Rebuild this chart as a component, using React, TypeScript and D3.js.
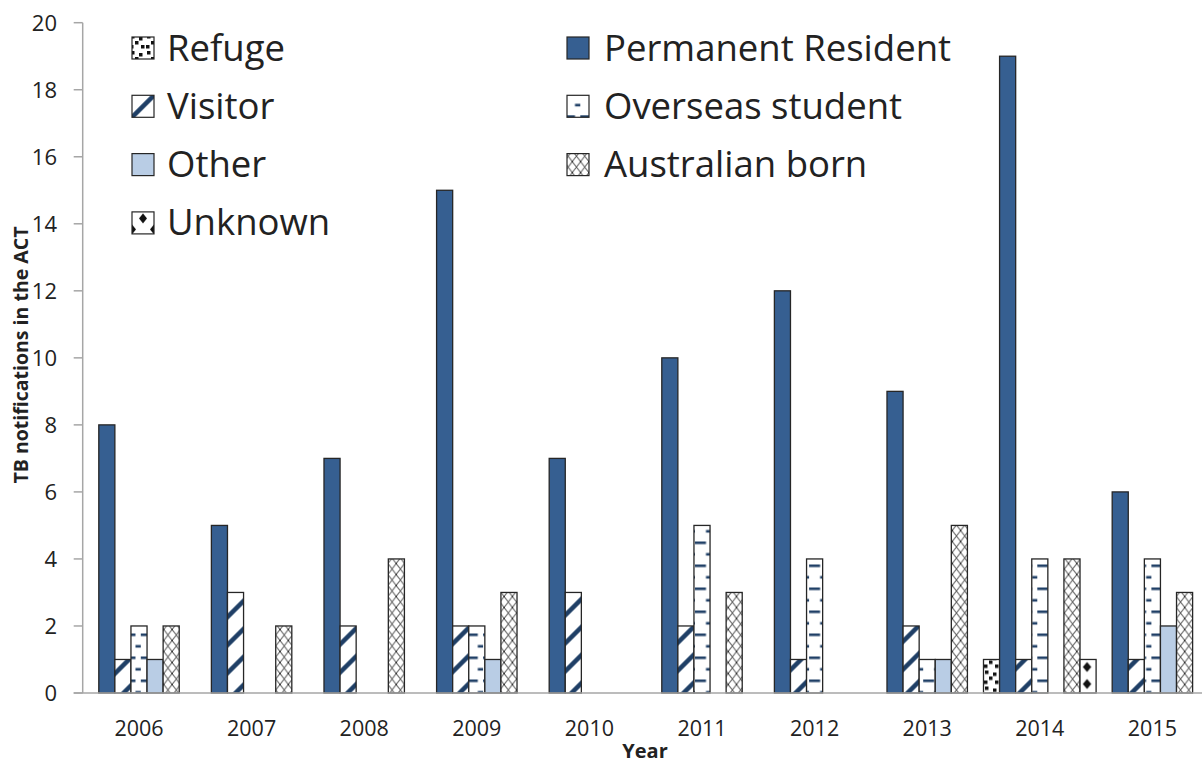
import React from "react";
import * as d3 from "d3";

const years = ["2006", "2007", "2008", "2009", "2010", "2011", "2012", "2013", "2014", "2015"];
const seriesNames = ["Refuge", "Permanent Resident", "Visitor", "Overseas student", "Other", "Australian born", "Unknown"];
const refuge = [0, 0, 0, 0, 0, 0, 0, 0, 1, 0];
const permanentResident = [8, 5, 7, 15, 7, 10, 12, 9, 19, 6];
const visitor = [1, 3, 2, 2, 3, 2, 1, 2, 1, 1];
const overseasStudent = [2, 0, 0, 2, 0, 5, 4, 1, 4, 4];
const other = [1, 0, 0, 1, 0, 0, 0, 1, 0, 2];
const australianBorn = [2, 2, 4, 3, 0, 3, 0, 5, 4, 3];
const unknown = [0, 0, 0, 0, 0, 0, 0, 0, 1, 0];
const yTicks = [0, 2, 4, 6, 8, 10, 12, 14, 16, 18, 20];

const seriesValues = [refuge, permanentResident, visitor, overseasStudent, other, australianBorn, unknown];

const W = 1202, H = 765;
const X0 = 82.7, STEP = 112.6;
const FONT = "'Open Sans', Lato, sans-serif";
const NAVY = "#1f3f66";
const PR_FILL = "#365f91";
const OTHER_FILL = "#b9cde5";
const EDGE = "#262626";
const AXIS = "#a6a6a6";

function Patterns({ prefix, ox, oy, dox = 0, doy = 0, legend = false }: { prefix: string; ox: number; oy: number; dox?: number; doy?: number; legend?: boolean }) {
  return (
    <>
      <pattern id={`${prefix}-refuge`} patternUnits="userSpaceOnUse" x={ox} y={oy} width={16} height={16}>
        <rect width={16} height={16} fill="#fff" />
        <rect x={2} y={1} width={3.5} height={3.5} fill="#111" />
        <rect x={10} y={3} width={3.5} height={3.5} fill="#111" />
        <rect x={6} y={7} width={3.5} height={3.5} fill="#111" />
        <rect x={1} y={11} width={3.5} height={3.5} fill="#111" />
        <rect x={12} y={11} width={3.5} height={3.5} fill="#111" />
      </pattern>
      <pattern id={`${prefix}-visitor`} patternUnits="userSpaceOnUse" x={ox} y={oy} width={28} height={28}>
        <rect width={28} height={28} fill="#fff" />
        <path d="M-7,7 L7,-7 M0,28 L28,0 M21,35 L35,21" stroke={NAVY} strokeWidth={4.5} />
      </pattern>
      <pattern id={`${prefix}-overseas`} patternUnits="userSpaceOnUse" x={ox} y={oy} width={16.3} height={23}>
        <rect width={16.3} height={23} fill="#fff" />
        <rect x={0} y={0} width={11} height={2.6} fill={NAVY} />
        <rect x={11} y={11.5} width={5.3} height={2.6} fill={NAVY} />
      </pattern>
      <pattern id={`${prefix}-aus`} patternUnits="userSpaceOnUse" x={ox} y={oy} width={8.3} height={11}>
        <rect width={8.3} height={11} fill="#fff" />
        <path d="M0,0 L8.3,11 M8.3,0 L0,11" stroke="#111" strokeWidth={0.9} />
      </pattern>
      {legend ? (
        <pattern id={`${prefix}-unknown`} patternUnits="userSpaceOnUse" x={ox + dox} y={oy + doy} width={22} height={22}>
          <rect width={22} height={22} fill="#fff" />
          <path d="M11,1.5 L15,6.5 L11,11.5 L7,6.5 Z M0,12.5 L4,17.5 L0,22.5 L-4,17.5 Z M22,12.5 L26,17.5 L22,22.5 L18,17.5 Z" fill="#111" />
        </pattern>
      ) : (
        <pattern id={`${prefix}-unknown`} patternUnits="userSpaceOnUse" x={ox + dox} y={oy + doy} width={16.1} height={17}>
          <rect width={16.1} height={17} fill="#fff" />
          <path d="M8.05,3.5 L12.3,8.5 L8.05,13.5 L3.8,8.5 Z" fill="#111" />
        </pattern>
      )}
    </>
  );
}

const fillFor = (prefix: string) => [
  `url(#${prefix}-refuge)`,
  PR_FILL,
  `url(#${prefix}-visitor)`,
  `url(#${prefix}-overseas)`,
  OTHER_FILL,
  `url(#${prefix}-aus)`,
  `url(#${prefix}-unknown)`,
];

export default function App() {
  const x = d3.scaleBand<string>().domain(years).range([X0, X0 + STEP * years.length]).padding(0);
  const xs = d3.scaleBand<string>().domain(seriesNames).range([0, x.bandwidth()]).padding(0);
  const y = d3.scaleLinear().domain([0, 20]).range([693, 22.7]);

  const barFills = fillFor("g");
  const bars: JSX.Element[] = [];
  seriesNames.forEach((s, si) => {
    seriesValues[si].forEach((v, i) => {
      if (v <= 0) return;
      const bx = (x(years[i]) as number) + (xs(s) as number);
      bars.push(
        <rect key={`${s}-${i}`} x={bx} y={y(v)} width={xs.bandwidth()} height={y(0) - y(v)}
          fill={barFills[si]} stroke={EDGE} strokeWidth={1.3} />
      );
    });
  });

  const legendRowY = (r: number) => 48 + 58.3 * r;
  const legendItems = seriesNames.map((s, si) => {
    const col = si % 2;
    const row = Math.floor(si / 2);
    const ix = col === 0 ? 132 : 567;
    const tx = col === 0 ? 167 : 604;
    const cy = legendRowY(row);
    return { s, si, ix, tx, cy };
  });

  return (
    <svg width={W} height={H} style={{ position: "absolute", left: 0, top: 0, background: "#fff" }}
      fontFamily={FONT}>
      <defs>
        <Patterns prefix="g" ox={695} oy={541.5} dox={1079 - 695} doy={658.5 - 541.5} />
        {legendItems.map((it) => (
          <Patterns key={it.s} prefix={`l${it.si}`} ox={it.ix - 3} oy={it.cy - 14} dox={3} doy={3} legend />
        ))}
      </defs>
      <rect width={W} height={H} fill="#fff" />

      {/* y axis */}
      <line x1={X0} x2={X0} y1={y(20)} y2={y(0)} stroke={AXIS} strokeWidth={1.5} />
      {yTicks.map((t) => (
        <g key={t}>
          <line x1={X0 - 9} x2={X0} y1={y(t)} y2={y(t)} stroke={AXIS} strokeWidth={1.5} />
          <text x={57} y={y(t)} dy="0.36em" textAnchor="end" fontSize={22} fill="#222">{t}</text>
        </g>
      ))}

      {bars}

      {/* x axis */}
      <line x1={X0 - 9} x2={W} y1={y(0)} y2={y(0)} stroke={AXIS} strokeWidth={1.5} />
      {years.map((yr) => (
        <text key={yr} x={(x(yr) as number) + x.bandwidth() / 2} y={728} dy="0.36em" textAnchor="middle"
          fontSize={21.5} fill="#222">{yr}</text>
      ))}

      <text x={645} y={758} textAnchor="middle" fontSize={20} fontWeight="bold" fill="#222">Year</text>
      <text transform="translate(28,355) rotate(-90)" textAnchor="middle" fontSize={19.5} fontWeight="bold"
        fill="#222">TB notifications in the ACT</text>

      {/* legend */}
      {legendItems.map((it) => (
        <g key={it.s}>
          <rect x={it.ix} y={it.cy - 11} width={22} height={22} fill={fillFor(`l${it.si}`)[it.si]}
            stroke={EDGE} strokeWidth={1.2} />
          <text x={it.tx} y={it.cy + 12.5} fontSize={36.5} fill="#222">{it.s}</text>
        </g>
      ))}
    </svg>
  );
}
